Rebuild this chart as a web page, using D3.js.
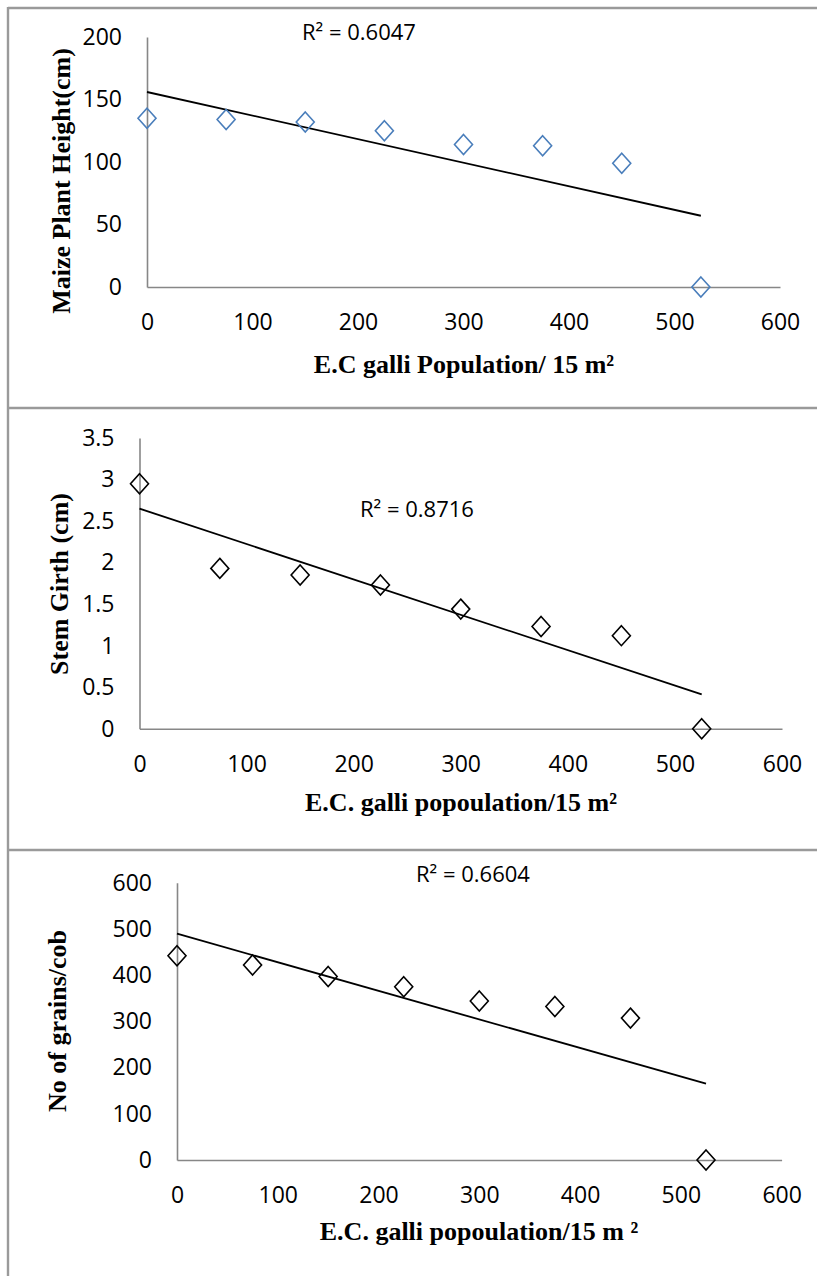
<!DOCTYPE html>
<html>
<head>
<meta charset="utf-8">
<script src="https://cdn.jsdelivr.net/npm/d3@7"></script>
<style>
  body { margin: 0; background: #fff; }
  svg { display: block; }
  .tick text { font-family: "Open Sans", sans-serif; font-size: 23px; fill: #000; }
  .domain { stroke: #878787; stroke-width: 1.6px; }
  .atitle { font-family: "Liberation Serif", "Times New Roman", serif; font-weight: bold; font-size: 26px; fill: #000; }
  .r2 { font-family: "Open Sans", sans-serif; font-size: 22px; fill: #000; }
</style>
</head>
<body>
<div id="chart"></div>
<script>
// data
const populations = [0, 75, 150, 225, 300, 375, 450, 525];
const plantHeight = [135, 134, 132, 125, 114, 113, 99, 0];
const stemGirth = [2.95, 1.93, 1.85, 1.73, 1.44, 1.23, 1.12, 0];
const grainsPerCob = [442, 422, 397, 375, 344, 332, 307, 0];

const xTicks = [0, 100, 200, 300, 400, 500, 600];
const heightTicks = [0, 50, 100, 150, 200];
const girthTicks = [0, 0.5, 1, 1.5, 2, 2.5, 3, 3.5];
const grainTicks = [0, 100, 200, 300, 400, 500, 600];

const r2Labels = ["R\u00b2 = 0.6047", "R\u00b2 = 0.8716", "R\u00b2 = 0.6604"];
const xTitles = ["E.C galli Population/ 15 m\u00b2", "E.C. galli popoulation/15 m\u00b2", "E.C. galli popoulation/15 m \u00b2"];
const yTitles = ["Maize Plant Height(cm)", "Stem Girth (cm)", "No of grains/cob"];

const W = 817, H = 1276;

// layout for each panel
const panels = [
  { values: plantHeight, ticks: heightTicks, ymax: 200, color: "#4a7ebb",
    x0: 147, x1: 780, y0: 287, y1: 37,
    r2: [302, 40], xt: [464, 373], yt: [70, 181] },
  { values: stemGirth, ticks: girthTicks, ymax: 3.5, color: "#000",
    x0: 139.5, x1: 782, y0: 728.7, y1: 438,
    r2: [360, 517], xt: [461, 811], yt: [68, 584] },
  { values: grainsPerCob, ticks: grainTicks, ymax: 600, color: "#000",
    x0: 177, x1: 781.6, y0: 1160, y1: 882.7,
    r2: [416, 882], xt: [479, 1240], yt: [66, 1021] }
];

const svg = d3.select("#chart")
  .append("svg")
  .attr("width", W)
  .attr("height", H);

// frame lines
const frame = svg.append("g")
  .attr("stroke", "#9a9a9a")
  .attr("stroke-width", 2.4);
frame.append("line").attr("x1", 8).attr("y1", 8).attr("x2", W).attr("y2", 8);
frame.append("line").attr("x1", 8).attr("y1", 7).attr("x2", 8).attr("y2", H);
frame.append("line").attr("x1", 8).attr("y1", 408).attr("x2", W).attr("y2", 408);
frame.append("line").attr("x1", 8).attr("y1", 850).attr("x2", W).attr("y2", 850);

function linearFit(xs, ys) {
  const mx = d3.mean(xs), my = d3.mean(ys);
  let sxy = 0, sxx = 0;
  xs.forEach((x, i) => { sxy += (x - mx) * (ys[i] - my); sxx += (x - mx) * (x - mx); });
  const slope = sxy / sxx;
  return { slope: slope, intercept: my - slope * mx };
}

const diamond = "M0,-10L9,0L0,10L-9,0Z";

panels.forEach((p, k) => {
  const x = d3.scaleLinear().domain([0, 600]).range([p.x0, p.x1]);
  const y = d3.scaleLinear().domain([0, p.ymax]).range([p.y0, p.y1]);
  const g = svg.append("g");

  // X axis
  g.append("g")
    .attr("transform", `translate(0,${y(0)})`)
    .call(d3.axisBottom(x).tickValues(xTicks).tickSize(0).tickPadding(27).tickFormat(d3.format("d")));

  // Y axis
  g.append("g")
    .attr("transform", `translate(${x(0)},0)`)
    .call(d3.axisLeft(y).tickValues(p.ticks).tickSize(0).tickPadding(25).tickFormat(d => String(d)));

  // trendline
  const fit = linearFit(populations, p.values);
  const xEnd = d3.max(populations);
  g.append("line")
    .attr("x1", x(0)).attr("y1", y(fit.intercept))
    .attr("x2", x(xEnd)).attr("y2", y(fit.intercept + fit.slope * xEnd))
    .attr("stroke", "#000")
    .attr("stroke-width", 1.8);

  // markers
  g.selectAll("path.pt")
    .data(populations.map((v, i) => [v, p.values[i]]))
    .join("path")
    .attr("class", "pt")
    .attr("d", diamond)
    .attr("transform", d => `translate(${x(d[0])},${y(d[1])})`)
    .attr("fill", "none")
    .attr("stroke", p.color)
    .attr("stroke-width", 1.6);

  g.append("text")
    .attr("class", "r2")
    .attr("x", p.r2[0]).attr("y", p.r2[1])
    .text(r2Labels[k]);

  g.append("text")
    .attr("class", "atitle")
    .attr("x", p.xt[0]).attr("y", p.xt[1])
    .attr("text-anchor", "middle")
    .text(xTitles[k]);

  g.append("text")
    .attr("class", "atitle")
    .attr("text-anchor", "middle")
    .attr("transform", `translate(${p.yt[0]},${p.yt[1]}) rotate(-90)`)
    .text(yTitles[k]);
});
</script>
</body>
</html>
